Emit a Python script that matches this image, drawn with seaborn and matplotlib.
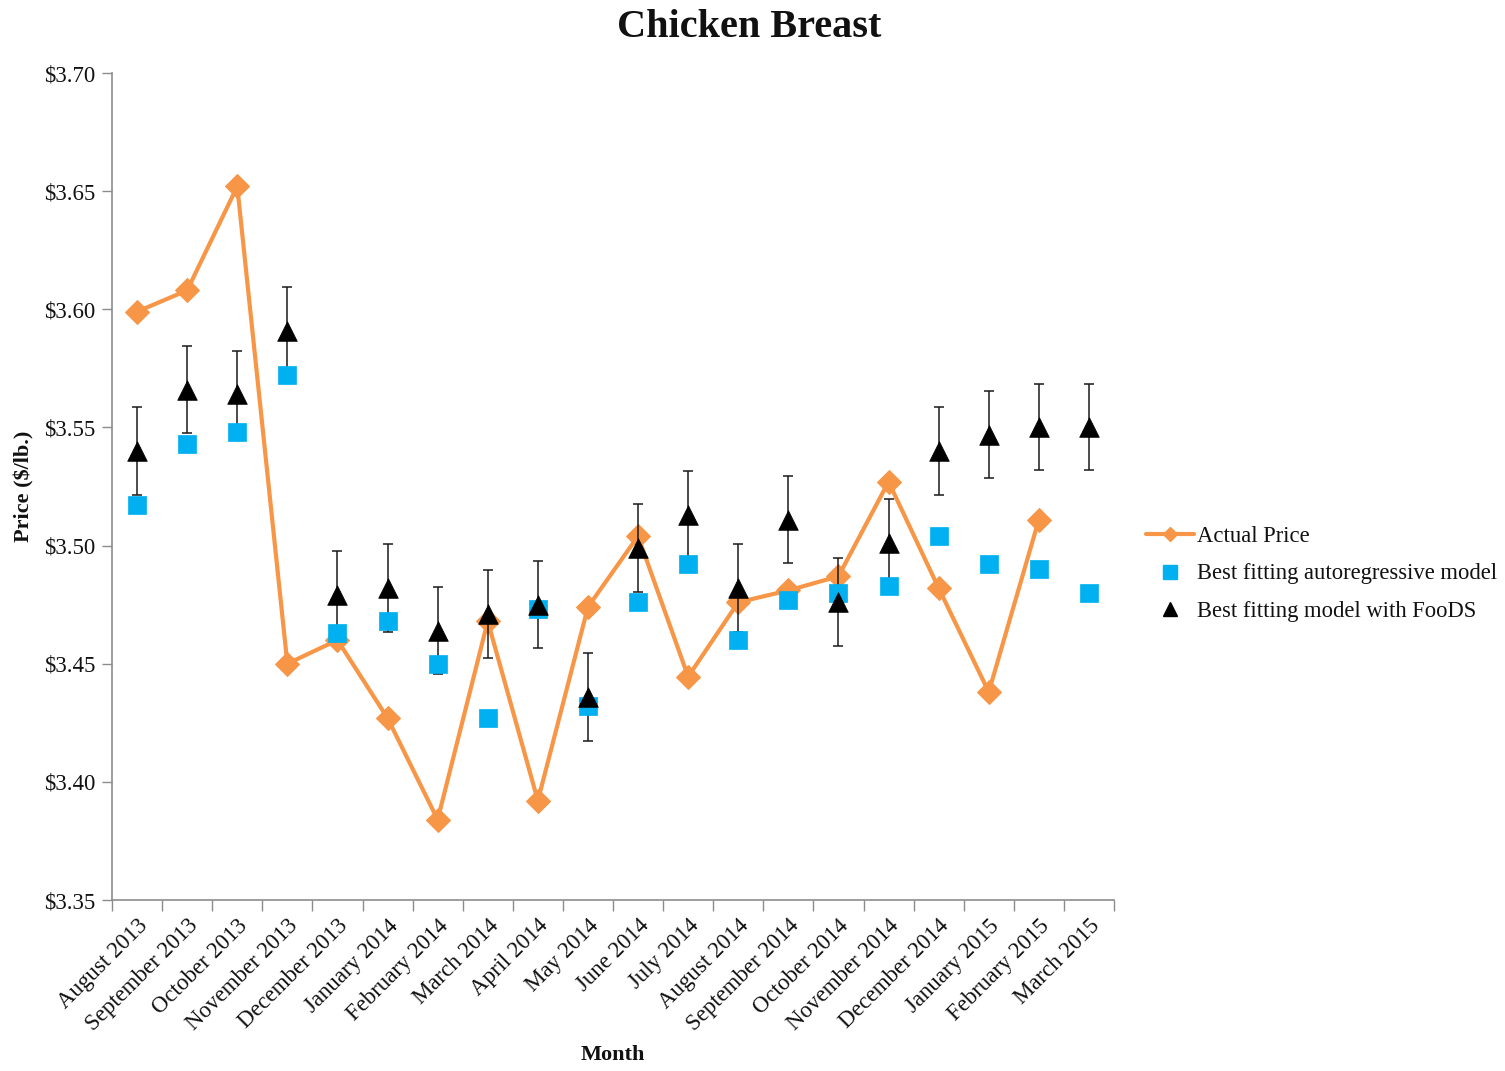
import matplotlib
matplotlib.use("Agg")
import matplotlib.pyplot as plt
import seaborn as sns
import numpy as np
import pandas as pd
from matplotlib.lines import Line2D
from matplotlib.ticker import FixedLocator, FuncFormatter

months = [
    "August 2013", "September 2013", "October 2013", "November 2013",
    "December 2013", "January 2014", "February 2014", "March 2014",
    "April 2014", "May 2014", "June 2014", "July 2014", "August 2014",
    "September 2014", "October 2014", "November 2014", "December 2014",
    "January 2015", "February 2015", "March 2015",
]
actual_price = [
    3.599, 3.608, 3.652, 3.450, 3.460, 3.427, 3.384, 3.468, 3.392, 3.474,
    3.504, 3.4445, 3.476, 3.481, 3.487, 3.527, 3.482, 3.438, 3.511, np.nan,
]
autoregressive_model = [
    3.517, 3.543, 3.548, 3.572, 3.463, 3.468, 3.450, 3.427, 3.473, 3.432,
    3.476, 3.492, 3.460, 3.477, 3.480, 3.483, 3.504, 3.492, 3.490, 3.480,
]
foods_model = [
    3.540, 3.566, 3.564, 3.591, 3.479, 3.482, 3.464, 3.471, 3.475, 3.436,
    3.499, 3.513, 3.482, 3.511, 3.476, 3.501, 3.540, 3.547, 3.550, 3.550,
]
foods_error = [
    0.0186, 0.0184, 0.0184, 0.0184, 0.0185, 0.0185, 0.0185, 0.0185, 0.0185, 0.0185,
    0.0185, 0.0185, 0.0185, 0.0185, 0.0186, 0.0185, 0.0185, 0.0184, 0.0182, 0.0182,
]
y_ticks = [3.35, 3.40, 3.45, 3.50, 3.55, 3.60, 3.65, 3.70]

ORANGE = "#F79646"
BLUE = "#00B0F0"
AXIS_GRAY = "#8C8C8C"
TEXT = "#111111"

sns.set_style("white")
plt.rcParams["font.family"] = ["Liberation Serif", "DejaVu Serif"]
plt.rcParams["text.color"] = TEXT
plt.rcParams["axes.labelcolor"] = TEXT

df = pd.DataFrame({
    "pos": np.arange(len(months)),
    "month": months,
    "actual": actual_price,
    "ar": autoregressive_model,
    "foods": foods_model,
    "err": foods_error,
})

fig = plt.figure(figsize=(15.05, 10.71), dpi=100)
ax = fig.add_axes([112 / 1505, 171 / 1071, 1002 / 1505, 827 / 1071])

# actual price line with diamond markers
sns.lineplot(data=df, x="pos", y="actual", ax=ax, color=ORANGE, linewidth=3.0,
             marker="D", markersize=12, markeredgecolor=ORANGE, zorder=2,
             legend=False)

# error bars for the FooDS model
ax.errorbar(df["pos"], df["foods"], yerr=df["err"], fmt="none", ecolor="#1a1a1a",
            elinewidth=1.1, capsize=3.6, capthick=1.1, zorder=3)

# autoregressive model squares
sns.scatterplot(data=df, x="pos", y="ar", ax=ax, marker="s", s=165, color=BLUE,
                edgecolor=BLUE, linewidth=0.5, zorder=4, legend=False)

# FooDS model triangles
sns.scatterplot(data=df, x="pos", y="foods", ax=ax, marker="^", s=200, color="black",
                edgecolor="black", linewidth=0.5, zorder=5, legend=False)

ax.set_xlim(-0.5, len(months) - 0.5)
ax.set_ylim(3.35, 3.70)

ax.yaxis.set_major_locator(FixedLocator(y_ticks))
ax.yaxis.set_major_formatter(FuncFormatter(lambda v, _: f"${v:.2f}"))
ax.tick_params(axis="y", which="major", direction="out", length=7, width=1,
               color=AXIS_GRAY, labelcolor=TEXT, labelsize=16.5, pad=5, left=True)

ax.set_xticks(np.arange(len(months)))
ax.set_xticklabels(months, rotation=45, ha="right", rotation_mode="anchor")
ax.xaxis.set_minor_locator(FixedLocator(np.arange(-0.5, len(months), 1.0)))
ax.tick_params(axis="x", which="major", length=0, labelsize=16.5, labelcolor=TEXT, pad=11)
ax.tick_params(axis="x", which="minor", direction="out", length=8, width=1,
               color=AXIS_GRAY, bottom=True)

for side in ["top", "right"]:
    ax.spines[side].set_visible(False)
for side in ["left", "bottom"]:
    ax.spines[side].set_color(AXIS_GRAY)
    ax.spines[side].set_linewidth(1.2)

ax.set_xlabel("Month", fontsize=16, fontweight="bold")
ax.xaxis.set_label_coords(0.5, -0.175)
ax.xaxis.label.set_va("top")
ax.set_ylabel("Price ($/lb.)", fontsize=16, fontweight="bold")
ax.yaxis.set_label_coords(-0.077, 0.5)

fig.suptitle("Chicken Breast", fontsize=29, fontweight="bold", x=0.498, y=0.992, va="top")

handles = [
    Line2D([], [], color=ORANGE, linewidth=3.0, marker="D", markersize=7,
           markeredgecolor=ORANGE),
    Line2D([], [], linestyle="none", marker="s", markersize=10, color=BLUE),
    Line2D([], [], linestyle="none", marker="^", markersize=10, color="black"),
]
labels = ["Actual Price", "Best fitting autoregressive model", "Best fitting model with FooDS"]
fig.legend(handles, labels, loc="center left", bbox_to_anchor=(1146 / 1505, 1 - 574 / 1071),
           frameon=False, fontsize=16.3, handlelength=2.1, handletextpad=0.15,
           labelspacing=0.74, borderpad=0, borderaxespad=0, numpoints=1)

fig.savefig("out.png", dpi=100)
